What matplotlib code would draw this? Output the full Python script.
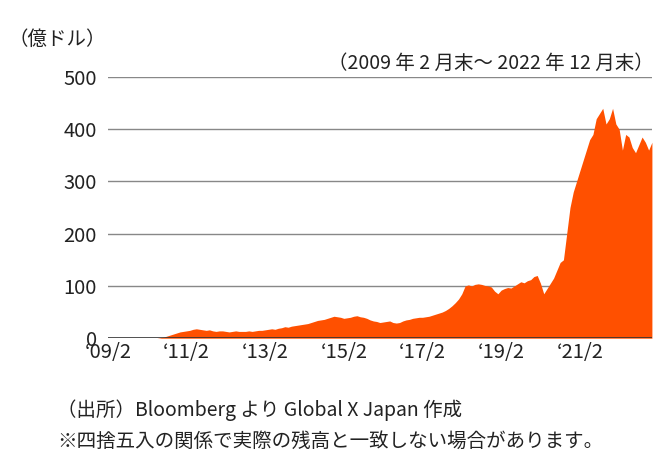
import matplotlib
matplotlib.use("Agg")
import matplotlib.pyplot as plt
import numpy as np

plt.rcParams['font.family'] = ['Noto Sans CJK JP', 'DejaVu Sans']

v2009 = [0]*11
v2010 = [0,0,0,0,0,1,2,4,6,8,10,12]
v2011 = [13,14,15,17,18,17,16,15,16,14,13,14]
v2012 = [14,13,12,13,14,13,13,13,14,13,14,15]
v2013 = [15,16,17,18,17,19,20,22,21,23,24,25]
v2014 = [26,27,28,30,32,34,35,36,38,40,42,41]
v2015 = [40,38,39,40,42,43,41,40,38,35,33,32]
v2016 = [30,31,32,33,30,29,30,33,35,36,38,39]
v2017 = [40,40,41,42,44,46,48,50,53,57,62,68]
v2018 = [75,85,100,102,100,103,104,103,101,100,98,90]
v2019 = [85,92,95,97,96,100,104,108,106,110,112,118]
v2020 = [120,105,85,95,105,115,130,145,150,200,250,280]
v2021 = [300,320,340,360,380,390,420,430,440,410,420,440]
v2022 = [410,400,360,390,385,365,355,370,385,375,360,375]
values = v2009+v2010+v2011+v2012+v2013+v2014+v2015+v2016+v2017+v2018+v2019+v2020+v2021+v2022
tick_labels = ["‘09/2","‘11/2","‘13/2","‘15/2","‘17/2","‘19/2","‘21/2"]
yticks = [0,100,200,300,400,500]

fig = plt.figure(figsize=(6.7,4.75), dpi=100)
ax = fig.add_axes([0.161,0.288,0.812,0.55])
x = np.arange(len(values))
ax.fill_between(x, values, 0, color='#FF5000', lw=0, zorder=2)
ax.set_xlim(0, len(values)-1)
ax.set_ylim(0, 500)
ax.set_yticks(yticks)
for y in yticks[1:]:
    ax.axhline(y, color='#888888', lw=1, zorder=1)
ax.axhline(0, color='#333333', lw=1.2, zorder=3)
ax.set_xticks(np.arange(len(tick_labels))*24)
ax.set_xticklabels(tick_labels)
for s in ax.spines.values():
    s.set_visible(False)
ax.tick_params(length=0, labelsize=14.5, colors='#222222')
ax.tick_params(axis='y', pad=8)
ax.tick_params(axis='x', pad=3)
fig.text(0.012, 0.905, "（億ドル）", fontsize=14, color='#222222')
fig.text(0.975, 0.855, "（2009 年 2 月末～ 2022 年 12 月末）", fontsize=14, color='#222222', ha='right')
fig.text(0.085, 0.125, "（出所）Bloomberg より Global X Japan 作成", fontsize=14, color='#222222')
fig.text(0.085, 0.06, "※四捨五入の関係で実際の残高と一致しない場合があります。", fontsize=14, color='#222222')
fig.savefig("out.png", dpi=100)
